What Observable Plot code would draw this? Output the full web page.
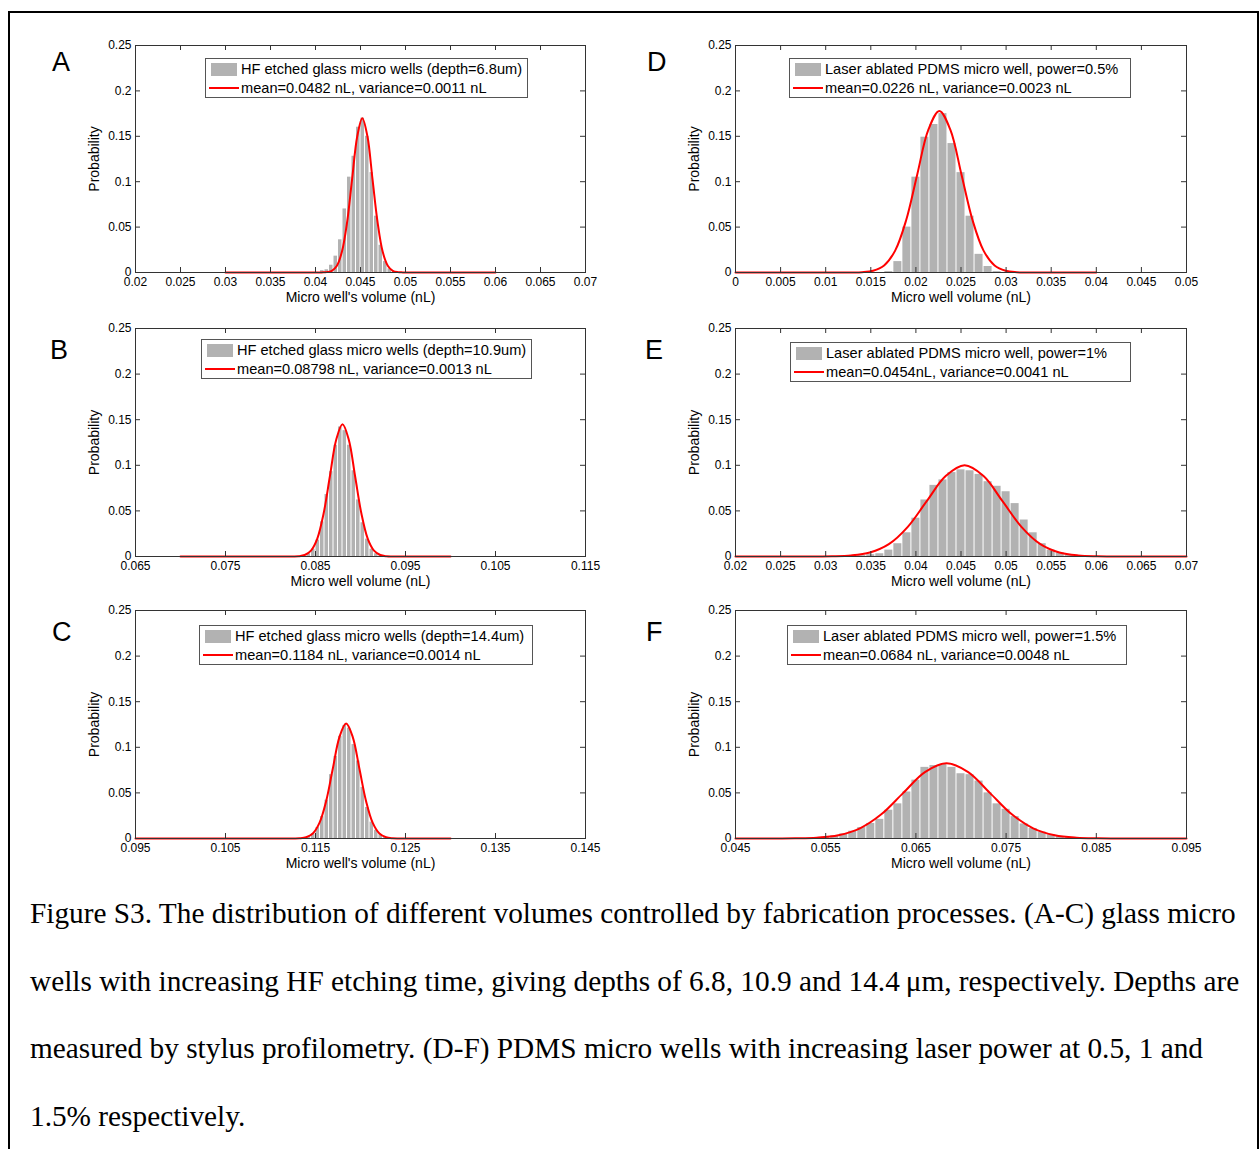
<!DOCTYPE html>
<html><head><meta charset="utf-8">
<script src="https://cdn.jsdelivr.net/npm/d3@7"></script>
<script src="https://cdn.jsdelivr.net/npm/@observablehq/plot@0.6"></script>
<style>
body{margin:0;background:#fff;}
#root{position:relative;width:1260px;height:1149px;overflow:hidden;background:#fff;font-family:"Liberation Sans",Arial,sans-serif;color:#000;}
#border{position:absolute;left:8px;top:11px;width:1247px;height:1200px;border:2px solid #000;}
.panel{position:absolute;}
.letter{position:absolute;font-size:27px;line-height:30px;font-family:"Liberation Sans",Arial,sans-serif;}
.legend{position:absolute;border:1px solid #555;background:#fff;height:40px;box-sizing:border-box;}
.legend .sw{position:absolute;left:5px;top:4px;width:26px;height:13px;background:#b2b2b2;}
.legend .ln{position:absolute;left:3px;top:28px;width:30px;height:2px;background:#ff0000;}
.legend .t{position:absolute;left:35px;font-size:14.6px;line-height:18px;white-space:nowrap;}
.cl{position:absolute;left:30px;white-space:nowrap;font-family:"Liberation Serif","Times New Roman",serif;color:#000;}
</style></head>
<body><div id="root"><div id="border"></div></div>
<script>
// ---------- data ----------
const yTicks = [0, 0.05, 0.1, 0.15, 0.2, 0.25];

const xTicksA = [0.02,0.025,0.03,0.035,0.04,0.045,0.05,0.055,0.06,0.065,0.07];
const xTicksB = [0.065,0.075,0.085,0.095,0.105,0.115];
const xTicksC = [0.095,0.105,0.115,0.125,0.135,0.145];
const xTicksD = [0,0.005,0.01,0.015,0.02,0.025,0.03,0.035,0.04,0.045,0.05];
const xTicksE = [0.02,0.025,0.03,0.035,0.04,0.045,0.05,0.055,0.06,0.065,0.07];
const xTicksF = [0.045,0.055,0.065,0.075,0.085,0.095];

// histogram bins (centres) and probabilities
const binA = 0.0005;
const centersA = [0.04075,0.04125,0.04175,0.04225,0.04275,0.04325,0.04375,0.04425,0.04475,0.04525,0.04575,0.04625,0.04675,0.04725,0.04775,0.04825,0.04875];
const probA    = [0.002,0.003,0.008,0.018,0.036,0.070,0.105,0.128,0.160,0.170,0.150,0.110,0.062,0.030,0.012,0.004,0.001];

const binB = 0.0005;
const centersB = [0.08425,0.08475,0.08525,0.08575,0.08625,0.08675,0.08725,0.08775,0.08825,0.08875,0.08925,0.08975,0.09025,0.09075,0.09125,0.09175,0.09225];
const probB    = [0.003,0.008,0.018,0.038,0.068,0.093,0.122,0.142,0.138,0.122,0.094,0.062,0.037,0.019,0.008,0.003,0.001];

const binC = 0.0005;
const centersC = [0.11425,0.11475,0.11525,0.11575,0.11625,0.11675,0.11725,0.11775,0.11825,0.11875,0.11925,0.11975,0.12025,0.12075,0.12125,0.12175,0.12225,0.12275];
const probC    = [0.002,0.005,0.012,0.024,0.042,0.070,0.090,0.112,0.124,0.121,0.103,0.085,0.056,0.034,0.018,0.009,0.004,0.001];

const binD = 0.001;
const centersD = [0.017,0.018,0.019,0.020,0.021,0.022,0.023,0.024,0.025,0.026,0.027,0.028,0.029];
const probD    = [0.001,0.012,0.050,0.105,0.149,0.163,0.175,0.142,0.110,0.062,0.020,0.0066,0.001];

const binE = 0.001;
const centersE = [0.033,0.034,0.035,0.036,0.037,0.038,0.039,0.040,0.041,0.042,0.043,0.044,0.045,0.046,0.047,0.048,0.049,0.050,0.051,0.052,0.053,0.054,0.055,0.056,0.057,0.058];
const probE    = [0.0005,0.001,0.002,0.003,0.007,0.014,0.026,0.042,0.062,0.078,0.084,0.092,0.095,0.094,0.090,0.082,0.077,0.071,0.058,0.040,0.026,0.014,0.007,0.004,0.002,0.001];

const binF = 0.001;
const centersF = [0.054,0.055,0.056,0.057,0.058,0.059,0.060,0.061,0.062,0.063,0.064,0.065,0.066,0.067,0.068,0.069,0.070,0.071,0.072,0.073,0.074,0.075,0.076,0.077,0.078,0.079,0.080,0.081,0.082];
const probF    = [0.001,0.0015,0.003,0.005,0.008,0.012,0.0165,0.021,0.031,0.038,0.051,0.064,0.078,0.080,0.081,0.078,0.071,0.070,0.063,0.050,0.038,0.032,0.024,0.016,0.011,0.007,0.004,0.002,0.001];

// fitted curves, points
const curveXA = [0.03,0.04068,0.04125,0.04181,0.04238,0.04294,0.04351,0.04407,0.04464,0.0452,0.04577,0.04633,0.0469,0.04746,0.04803,0.04859,0.04916,0.04972,0.06];
const curveYA = [0,0.0001,0.0004,0.0019,0.0075,0.0230,0.0552,0.1031,0.1500,0.170,0.1500,0.1031,0.0552,0.0230,0.0075,0.0019,0.0004,0.0001,0];

const curveXB = [0.07,0.0824,0.0831,0.0838,0.0845,0.0852,0.0859,0.0866,0.0873,0.0880,0.0887,0.0894,0.0901,0.0908,0.0915,0.0922,0.0929,0.0936,0.10];
const curveYB = [0,0.0001,0.0003,0.0016,0.0064,0.0196,0.0471,0.0880,0.1280,0.145,0.1280,0.0880,0.0471,0.0196,0.0064,0.0016,0.0003,0.0001,0];

const curveXC = [0.095,0.11248,0.11322,0.11396,0.1147,0.11544,0.11618,0.11692,0.11766,0.1184,0.11914,0.11988,0.12062,0.12136,0.1221,0.12284,0.12358,0.12432,0.13];
const curveYC = [0,0.0001,0.0003,0.0014,0.0055,0.0171,0.0409,0.0764,0.1112,0.126,0.1112,0.0764,0.0409,0.0171,0.0055,0.0014,0.0003,0.0001,0];

const curveXD = [0,0.0128,0.014025,0.01525,0.016475,0.0177,0.018925,0.02015,0.021375,0.0226,0.023825,0.02505,0.026275,0.0275,0.028725,0.02995,0.031175,0.0324,0.04];
const curveYD = [0,0.0001,0.0004,0.0020,0.0078,0.0241,0.0578,0.1080,0.1571,0.178,0.1571,0.1080,0.0578,0.0241,0.0078,0.0020,0.0004,0.0001,0];

const curveXE = [0.02,0.0286,0.0307,0.0328,0.0349,0.037,0.0391,0.0412,0.0433,0.0454,0.0475,0.0496,0.0517,0.0538,0.0559,0.058,0.0601,0.0622,0.07];
const curveYE = [0,0.0000,0.0002,0.0011,0.0044,0.0135,0.0325,0.0607,0.0882,0.100,0.0882,0.0607,0.0325,0.0135,0.0044,0.0011,0.0002,0.0000,0];

const curveXF = [0.045,0.0492,0.0516,0.054,0.0564,0.0588,0.0612,0.0636,0.066,0.0684,0.0708,0.0732,0.0756,0.078,0.0804,0.0828,0.0852,0.0876,0.095];
const curveYF = [0,0.0000,0.0002,0.0009,0.0036,0.0112,0.0268,0.0500,0.0728,0.0825,0.0728,0.0500,0.0268,0.0112,0.0036,0.0009,0.0002,0.0000,0];

const legendTop    = ["HF etched glass micro wells (depth=6.8um)","HF etched glass micro wells (depth=10.9um)","HF etched glass micro wells (depth=14.4um)","Laser ablated PDMS micro well, power=0.5%","Laser ablated PDMS micro well, power=1%","Laser ablated PDMS micro well, power=1.5%"];
const legendBottom = ["mean=0.0482 nL, variance=0.0011 nL","mean=0.08798 nL, variance=0.0013 nL","mean=0.1184 nL, variance=0.0014 nL","mean=0.0226 nL, variance=0.0023 nL","mean=0.0454nL, variance=0.0041 nL","mean=0.0684 nL, variance=0.0048 nL"];
const xLabels = ["Micro well's volume (nL)","Micro well volume (nL)","Micro well's volume (nL)","Micro well volume (nL)","Micro well volume (nL)","Micro well volume (nL)"];
const panelLetters = ["A","B","C","D","E","F"];
const yLabel = "Probability";

const captionLines = [
  "Figure S3. The distribution of different volumes controlled by fabrication processes. (A-C) glass micro",
  "wells with increasing HF etching time, giving depths of 6.8, 10.9 and 14.4\u2009\u03bcm, respectively. Depths are",
  "measured by stylus profilometry. (D-F) PDMS micro wells with increasing laser power at 0.5, 1 and",
  "1.5% respectively."
];

// ---------- layout (styling only) ----------
const colLeft = [135, 735], colWidth = [450, 451];
const rowTop = [45, 328, 610], rowHeight = [227, 228, 228];
const legendBox = [[205,58,323],[201,339,331],[199,625,334],[789,58,342],[790,342,341],[787,625,340]];
const letterPos = [[52,47],[50,335],[52,617],[647,47],[645,335],[646,617]];

const panels = [
  {col:0,row:0,dom:[0.02,0.07],  ticks:xTicksA,c:centersA,p:probA,bin:binA,cx:curveXA,cy:curveYA},
  {col:0,row:1,dom:[0.065,0.115],ticks:xTicksB,c:centersB,p:probB,bin:binB,cx:curveXB,cy:curveYB},
  {col:0,row:2,dom:[0.095,0.145],ticks:xTicksC,c:centersC,p:probC,bin:binC,cx:curveXC,cy:curveYC},
  {col:1,row:0,dom:[0,0.05],     ticks:xTicksD,c:centersD,p:probD,bin:binD,cx:curveXD,cy:curveYD},
  {col:1,row:1,dom:[0.02,0.07],  ticks:xTicksE,c:centersE,p:probE,bin:binE,cx:curveXE,cy:curveYE},
  {col:1,row:2,dom:[0.045,0.095],ticks:xTicksF,c:centersF,p:probF,bin:binF,cx:curveXF,cy:curveYF}
];

const fmt = d => String(+d.toFixed(4));
const axisColor = "#333";
const root = document.getElementById("root");
const ML = 75, MR = 35, MT = 15, MB = 45;

panels.forEach((P, i) => {
  const fw = colWidth[P.col], fh = rowHeight[P.row];
  const bars = P.c.map((c, j) => ({x1: c - P.bin/2, x2: c + P.bin/2, p: P.p[j]}));
  const curve = P.cx.map((x, j) => ({x, y: P.cy[j]}));
  const chart = Plot.plot({
    width: ML + fw + MR, height: MT + fh + MB,
    marginLeft: ML, marginRight: MR, marginTop: MT, marginBottom: MB,
    x: {domain: P.dom},
    y: {domain: [0, 0.25]},
    style: {fontFamily: "'Liberation Sans', Arial, sans-serif", fontSize: "12px", color: "#000", background: "transparent", overflow: "visible"},
    marks: [
      Plot.rectY(bars, {x1: "x1", x2: "x2", y1: 0, y2: "p", fill: "#b2b2b2", insetLeft: 0.5, insetRight: 0.5}),
      Plot.line(curve, {x: "x", y: "y", stroke: "#ff0000", strokeWidth: 2, curve: "catmull-rom"}),
      Plot.frame({stroke: axisColor}),
      Plot.ruleX(P.ticks, {stroke: axisColor, insetTop: fh - 5}),
      Plot.ruleX(P.ticks, {stroke: axisColor, insetBottom: fh - 5}),
      Plot.ruleY(yTicks, {stroke: axisColor, insetRight: fw - 5}),
      Plot.ruleY(yTicks, {stroke: axisColor, insetLeft: fw - 5}),
      Plot.axisX(P.ticks, {tickSize: 0, tickPadding: 5, tickFormat: fmt, label: null, fontSize: 12}),
      Plot.axisY(yTicks, {tickSize: 0, tickPadding: 4, tickFormat: fmt, label: null, fontSize: 12}),
      Plot.text([xLabels[i]], {text: d => d, frameAnchor: "bottom", lineAnchor: "middle", textAnchor: "middle", dy: 25, fontSize: 14}),
      Plot.text([yLabel], {text: d => d, frameAnchor: "left", textAnchor: "middle", lineAnchor: "middle", dx: -41, rotate: -90, fontSize: 14})
    ]
  });
  const div = document.createElement("div");
  div.className = "panel";
  div.style.left = (colLeft[P.col] - ML) + "px";
  div.style.top = (rowTop[P.row] - MT) + "px";
  div.appendChild(chart);
  root.appendChild(div);

  const lg = document.createElement("div");
  lg.className = "legend";
  const [lx, ly, lw] = legendBox[i];
  lg.style.left = lx + "px"; lg.style.top = ly + "px"; lg.style.width = lw + "px";
  lg.innerHTML = `<div class="sw"></div><div class="t" style="top:1px">${legendTop[i]}</div><div class="ln"></div><div class="t" style="top:20px">${legendBottom[i]}</div>`;
  root.appendChild(lg);

  const L = document.createElement("div");
  L.className = "letter";
  L.style.left = letterPos[i][0] + "px"; L.style.top = letterPos[i][1] + "px";
  L.textContent = panelLetters[i];
  root.appendChild(L);
});

// caption, font size fitted so the first line spans the measured width
const ctx = document.createElement("canvas").getContext("2d");
ctx.font = '100px "Liberation Serif"';
const capSize = 100 * 1207 / ctx.measureText(captionLines[0]).width;
captionLines.forEach((t, k) => {
  const d = document.createElement("div");
  d.className = "cl";
  d.style.fontSize = capSize + "px";
  d.style.lineHeight = "30px";
  d.style.top = (913 + k * 67.7 - 15) + "px";
  d.textContent = t;
  root.appendChild(d);
});
</script>
</body></html>
